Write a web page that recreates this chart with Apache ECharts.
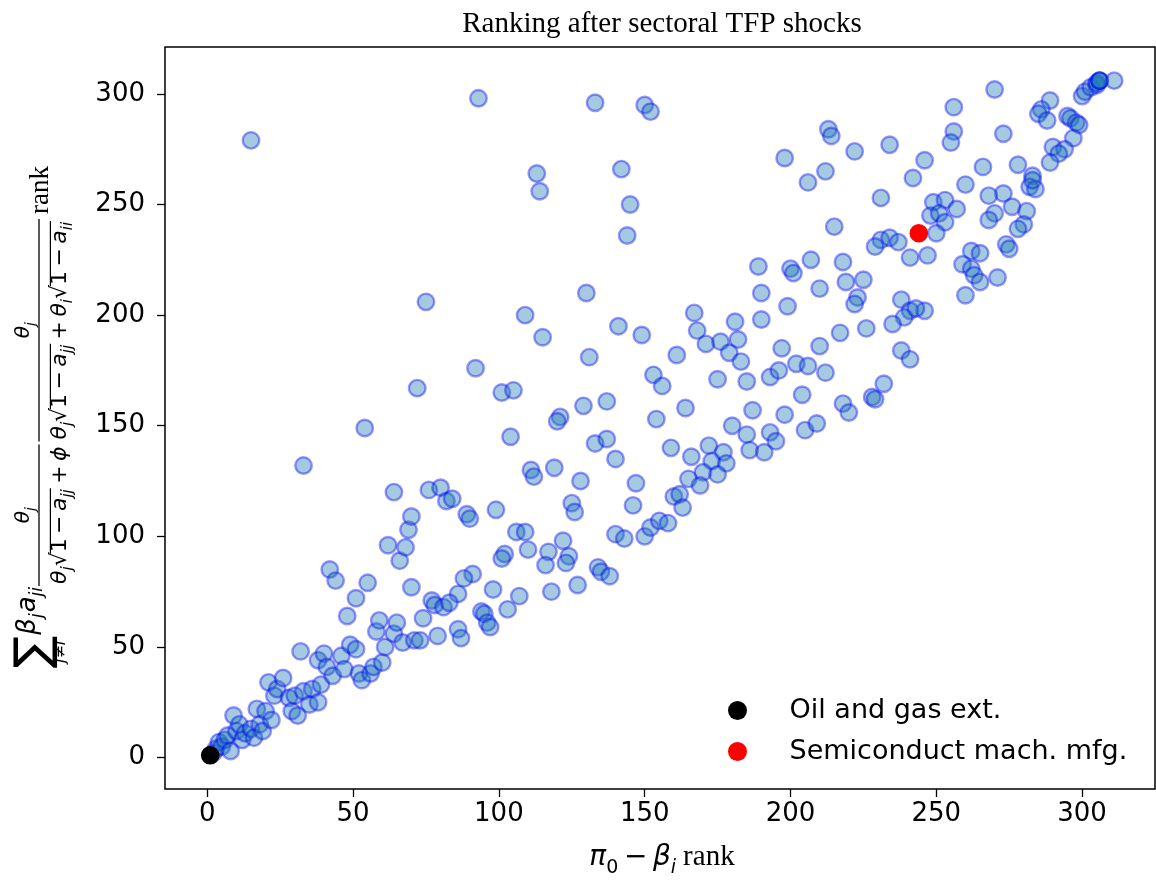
<!DOCTYPE html>
<html>
<head>
<meta charset="utf-8">
<script src="https://cdn.jsdelivr.net/npm/echarts/dist/echarts.min.js"></script>
<style>
html,body{margin:0;padding:0;background:#fff;}
#chart{width:1156px;height:880px;}
</style>
</head>
<body>
<div id="chart"></div>
<script>
// ---- data (ranks) ----
const rankX = [
  2,3,4,5,6,7,8,9,10,11,12,13,15,16,17,18,19,20,21,22,23,24,26,28,29,30,31,33,35,36,38,39,32,38,40,41,43,46,47,
  42,44,48,49,51,51,52,53,55,56,57,58,59,60,61,62,64,65,66,67,68,70,71,
  33,54,64,69,70,72,75,76,80,82,84,89,90,99,92,93,101,105,104,109,115,130,141,149,131,153,156,129,137,154,121,120,
  133,137,140,159,111,112,119,128,147,146,125,126,106,109,122,140,143,150,152,155,158,
  110,117,124,123,116,102,101,91,88,98,86,77,78,81,83,107,103,94,95,96,97,74,73,79,86,87,118,127,134,135,138,
  113,114,133,150,152,142,145,144,15,
  190,210,223,222,238,241,239,235,238,241,167,199,190,181,168,171,176,182,179,183,161,175,185,197,193,196,202,206,
  210,217,226,212,204,164,187,198,218,220,228,229,232,180,185,193,195,186,191,205,209,172,166,177,173,178,170,175,
  165,169,160,162,163,
  213,214,198,222,234,212,206,242,231,215,231,234,237,229,241,189,200,201,207,218,219,225,
  270,256,256,255,273,246,266,260,278,289,286,285,288,295,296,298,299,297,290,294,292,289,283,282,284,283,273,268,
  276,281,270,268,280,278,274,275,249,253,257,248,251,253,250,247,262,265,259,262,263,265,271,260,246,243,
  300,301,303,305,305,306,306,306,311
];
const rankY = [
  2,4,7,5,8,10,3,19,12,15,8,11,13,9,22,15,12,21,34,17,28,31,36,27,21,28,19,30,24,31,25,33,48,44,47,41,37,46,40,
  85,80,64,51,49,72,38,35,79,38,41,57,62,43,50,96,56,61,89,52,95,77,53,
  132,149,120,103,109,167,206,121,122,116,117,110,108,112,176,298,165,166,145,200,190,210,195,191,181,173,168,159,161,153,154,152,
  142,144,135,140,130,127,131,125,124,114,115,111,102,102,98,101,99,100,104,107,106,
  94,93,91,88,87,92,90,83,81,76,74,71,69,68,70,73,67,66,65,61,59,63,53,55,58,54,75,78,86,84,82,
  264,256,296,295,292,266,250,236,279,
  210,212,208,205,207,202,199,196,184,180,201,204,198,197,193,187,188,189,183,179,182,171,170,185,172,175,178,177,
  186,192,194,174,164,158,157,155,160,156,163,162,169,150,146,147,143,139,138,148,151,141,136,138,134,133,129,128,
  126,123,118,119,113,
  284,281,271,274,277,265,260,262,253,240,234,235,233,231,226,222,221,219,225,224,215,216,
  302,294,283,278,282,270,267,259,268,297,293,291,288,290,289,287,286,280,276,275,273,269,263,258,257,261,255,254,
  249,247,246,243,241,239,232,230,251,252,248,245,246,242,237,227,229,228,223,221,218,215,217,209,202,203,
  299,301,303,304,305,306,306,306,306
];
const oilGas = [1, 1];
const semiconductor = [244, 237];
const xTicks = [0, 50, 100, 150, 200, 250, 300];
const yTicks = [0, 50, 100, 150, 200, 250, 300];
const seriesNames = ['Oil and gas ext.', 'Semiconduct mach. mfg.'];
const titleText = 'Ranking after sectoral TFP shocks';

// ---- text helpers ----
const cv = document.createElement('canvas').getContext('2d');
function fnt(size, it, fam) { return (it ? 'italic ' : '') + size + 'px ' + (fam || '"DejaVu Sans"'); }
function measure(t, font) { cv.font = font; return cv.measureText(t).width; }
function txt(out, t, u, vb, size, it, fam) {
  const font = fnt(size, it, fam);
  out.push({type: 'text', x: u, y: vb - 0.35 * size,
    style: {text: t, font: font, fill: '#000', align: 'left', verticalAlign: 'middle', textAlign: 'left', textVerticalAlign: 'middle'}});
  return u + measure(t, font);
}
function ln(out, x1, y1, x2, y2, w) {
  out.push({type: 'line', shape: {x1: x1, y1: y1, x2: x2, y2: y2}, style: {stroke: '#000', lineWidth: w || 1.3}});
}
function run(out, toks, u, vb, size) {
  const ss = Math.round(size * 0.68), sv = vb + size * 0.24;
  let sq = 0;
  for (const tk of toks) {
    const k = tk[0], t = tk[1];
    if (k === 'i') u = txt(out, t, u, vb, size, true);
    else if (k === 'r') u = txt(out, t, u, vb, size, false);
    else if (k === 's') u = txt(out, t, u, sv, ss, true);
    else if (k === 'rs') u = txt(out, t, u, sv, ss, false);
    else if (k === 'op') { u += size * 0.2; u = txt(out, t, u, vb, size, false); u += size * 0.2; }
    else if (k === 'gap') u += t;
    else if (k === 'serif') u = txt(out, t, u, vb, tk[2], false, '"Liberation Serif"');
    else if (k === 'sq') { u = txt(out, '√', u, vb, size, false); sq = u - size * 0.06; }
    else if (k === 'sqe') { ln(out, sq, vb - size * 0.8, u + 1, vb - size * 0.8, 1.2); u += 1; }
  }
  return u;
}
function frac(out, u0, num, den, numSize, numVb, denSize, denVb, barV) {
  const dw = run([], den, 0, 0, denSize);
  const nw = run([], num, 0, 0, numSize);
  const L = dw + 4;
  ln(out, u0, barV, u0 + L, barV, 1.3);
  run(out, num, u0 + (L - nw) / 2, numVb, numSize);
  run(out, den, u0 + 2, denVb, denSize);
  return u0 + L;
}

// ---- y axis label (rotated math) ----
const yl = [];
(function () {
  let u = 12;
  const sf = fnt(48, false);
  const sw = measure('∑', sf);
  yl.push({type: 'text', x: u, y: 36, style: {text: '∑', font: sf, fill: '#000', align: 'left', verticalAlign: 'middle', textAlign: 'left', textVerticalAlign: 'middle'}});
  const subW = measure('j≠i', fnt(16, true));
  txt(yl, 'j≠i', u + (sw - subW) / 2, 66, 16, true);
  u += sw + 1;
  u = txt(yl, 'β', u, 37, 26, true);
  u = txt(yl, 'j', u, 44, 17, true);
  u += 1;
  u = txt(yl, 'a', u, 37, 26, true);
  u = txt(yl, 'ji', u, 44, 17, true);
  u += 1;
  const num = [['i', 'θ'], ['s', 'j']];
  const den1 = [['i', 'θ'], ['s', 'j'], ['sq'], ['r', '1'], ['op', '−'], ['i', 'a'], ['s', 'jj'], ['sqe'], ['op', '+'], ['i', 'ϕ']];
  const den2 = [['i', 'θ'], ['s', 'j'], ['sq'], ['r', '1'], ['op', '−'], ['i', 'a'], ['s', 'jj'], ['sqe'], ['op', '+'],
                ['i', 'θ'], ['s', 'i'], ['sq'], ['r', '1'], ['op', '−'], ['i', 'a'], ['s', 'ii'], ['sqe']];
  u = frac(yl, u, num, den1, 20, 31, 22, 68, 39);
  u += 3;
  u = frac(yl, u, num, den2, 20, 31, 22, 68, 39);
  u += 5;
  txt(yl, 'rank', u, 50, 27, false, '"Liberation Serif"');
})();

// ---- x axis label ----
const xl = [];
(function () {
  const toks = [['i', 'π'], ['rs', '0'], ['op', '−'], ['i', 'β'], ['s', 'i'], ['gap', 7], ['serif', 'rank', 29]];
  const w = run([], toks, 0, 0, 28);
  run(xl, toks, 662 - w / 2, 868, 28);
})();

const chart = echarts.init(document.getElementById('chart'), null, {renderer: 'canvas'});
const titleW = measure(titleText, '29px "Liberation Serif"');

const option = {
  backgroundColor: '#fff',
  animation: false,
  title: {
    text: titleText, left: 662 - titleW / 2, top: 10, padding: 0,
    textStyle: {fontFamily: 'Liberation Serif', fontSize: 29, fontWeight: 'normal', color: '#000'}
  },
  legend: {
    data: seriesNames, orient: 'vertical', left: 728, top: 697, padding: 0,
    itemWidth: 94, itemHeight: 19, itemGap: 14, icon: 'circle',
    textStyle: {fontFamily: 'DejaVu Sans', fontSize: 27, color: '#000', lineHeight: 27}
  },
  grid: {left: 165, right: 1, top: 47, bottom: 91, show: true, borderColor: '#000', borderWidth: 1.5, backgroundColor: 'transparent'},
  xAxis: {
    type: 'value', min: -14.5, max: 325,
    axisLine: {show: false, onZero: false},
    axisTick: {show: true, length: 8, lineStyle: {color: '#000', width: 1.3}, customValues: xTicks},
    axisLabel: {customValues: xTicks, fontFamily: 'DejaVu Sans', fontSize: 26, color: '#000', margin: 12},
    splitLine: {show: false}
  },
  yAxis: {
    type: 'value', min: -14.2, max: 321.2,
    axisLine: {show: false, onZero: false},
    axisTick: {show: true, length: 8, lineStyle: {color: '#000', width: 1.3}, customValues: yTicks},
    axisLabel: {customValues: yTicks, fontFamily: 'DejaVu Sans', fontSize: 26, color: '#000', margin: 20},
    splitLine: {show: false}
  },
  series: [
    {
      name: 'sectors', type: 'scatter', symbol: 'circle', symbolSize: 16.5,
      data: rankX.map((x, i) => [x, rankY[i]]),
      itemStyle: {color: 'rgba(31,119,180,0.4)', borderColor: 'rgba(0,0,255,0.4)', borderWidth: 2.4, opacity: 1},
      emphasis: {disabled: true}, z: 2
    },
    {
      name: seriesNames[0], type: 'scatter', symbol: 'circle', symbolSize: 18.5,
      data: [oilGas], itemStyle: {color: '#000', opacity: 1}, z: 3
    },
    {
      name: seriesNames[1], type: 'scatter', symbol: 'circle', symbolSize: 18.5,
      data: [semiconductor], itemStyle: {color: '#ff0000', opacity: 1}, z: 3
    }
  ],
  graphic: [
    {type: 'group', x: 0, y: 680, rotation: Math.PI / 2, children: yl},
    {type: 'group', x: 0, y: 0, children: xl}
  ]
};
chart.setOption(option);
</script>
</body>
</html>
